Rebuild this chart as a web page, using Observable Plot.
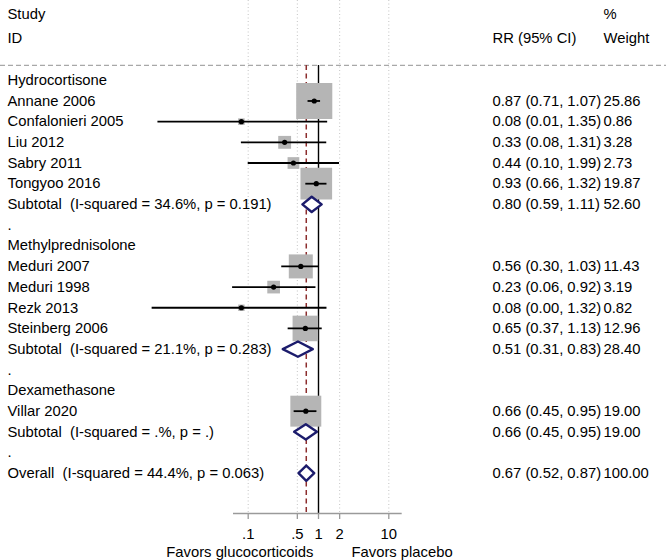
<!DOCTYPE html>
<html>
<head>
<meta charset="utf-8">
<script src="https://cdn.jsdelivr.net/npm/d3@7"></script>
<script src="https://cdn.jsdelivr.net/npm/@observablehq/plot@0.6"></script>
<style>
  html, body { margin: 0; padding: 0; background: white; }
  svg text { white-space: pre; }
</style>
</head>
<body>
<div id="chart"></div>
<script>
// ---- data ----
const labels = [
  "Hydrocortisone", "Annane 2006", "Confalonieri 2005", "Liu 2012", "Sabry 2011", "Tongyoo 2016",
  "Subtotal  (I-squared = 34.6%, p = 0.191)", ".",
  "Methylprednisolone", "Meduri 2007", "Meduri 1998", "Rezk 2013", "Steinberg 2006",
  "Subtotal  (I-squared = 21.1%, p = 0.283)", ".",
  "Dexamethasone", "Villar 2020", "Subtotal  (I-squared = .%, p = .)", ".",
  "Overall  (I-squared = 44.4%, p = 0.063)"
];
const kinds = [
  "group", "study", "study", "study", "study", "study", "subtotal", "blank",
  "group", "study", "study", "study", "study", "subtotal", "blank",
  "group", "study", "subtotal", "blank", "overall"
];
const rr = [null, 0.87, 0.08, 0.33, 0.44, 0.93, 0.80, null, null, 0.56, 0.23, 0.08, 0.65, 0.51, null, null, 0.66, 0.66, null, 0.67];
const lo = [null, 0.71, 0.0052, 0.08, 0.10, 0.66, 0.59, null, null, 0.30, 0.06, 0.0043, 0.37, 0.31, null, null, 0.45, 0.45, null, 0.52];
const hi = [null, 1.07, 1.35, 1.31, 1.99, 1.32, 1.11, null, null, 1.03, 0.92, 1.32, 1.13, 0.83, null, null, 0.95, 0.95, null, 0.87];
const weight = [null, 25.86, 0.86, 3.28, 2.73, 19.87, 52.60, null, null, 11.43, 3.19, 0.82, 12.96, 28.40, null, null, 19.00, 19.00, null, 100.00];

const headerTop = ["Study", "%"];
const headerBottom = ["ID", "RR (95% CI)", "Weight"];
const tickValues = [0.1, 0.5, 1, 2, 10];
const tickLabels = [".1", ".5", "1", "2", "10"];
const gridValues = [0.1, 0.5, 2, 10];
const favorLeft = "Favors glucocorticoids";
const favorRight = "Favors placebo";
const overallRR = rr[rr.length - 1];

// ---- table built from arrays ----
const rows = labels.map((label, i) => ({
  row: i, label, kind: kinds[i], rr: rr[i], lo: lo[i], hi: hi[i], weight: weight[i]
}));
const studies = rows.filter(d => d.kind === "study");
const pooled = rows.filter(d => d.kind === "subtotal" || d.kind === "overall");
const withEst = rows.filter(d => d.rr != null);
const halfH = 0.37; // diamond half height in row units
const diamonds = pooled.flatMap(d => [
  {row: d.row, x: d.lo, y: d.row},
  {row: d.row, x: d.rr, y: d.row - halfH},
  {row: d.row, x: d.hi, y: d.row},
  {row: d.row, x: d.rr, y: d.row + halfH}
]);

const axisRow = 20.95;
const headerRow = -0.72;
const colX = [7, 492, 603];
const txt = {fill: "black", textAnchor: "start", lineAnchor: "middle"};

const chart = Plot.plot({
  width: 666,
  height: 560,
  marginTop: 0,
  marginLeft: 0,
  marginRight: 0,
  marginBottom: 47,
  style: {fontFamily: "'Liberation Sans', Arial, Helvetica, sans-serif", fontSize: "14.8px", background: "white", color: "black"},
  x: {type: "log", domain: [0.1, 10], range: [247.7, 388.3]},
  y: {domain: [0, 19], range: [79.8, 472.7], axis: null},
  r: {type: "sqrt", domain: [0, 100], range: [0, 40.06]},
  marks: [
    // dotted gridlines
    Plot.ruleX(gridValues, {stroke: "#c4c4c4", strokeWidth: 1, strokeDasharray: "1,2.5"}),
    // header separator
    Plot.ruleY([headerRow], {stroke: "#a8a8a8", strokeWidth: 1.2, strokeDasharray: "5,3"}),
    // null line
    Plot.ruleX([1], {y1: headerRow, y2: axisRow, stroke: "black", strokeWidth: 1.4}),
    // overall effect line
    Plot.ruleX([overallRR], {y1: headerRow, y2: axisRow, stroke: "#8c2d2d", strokeWidth: 1.5, strokeDasharray: "5,3.5"}),
    // weight boxes
    Plot.dot(studies, {x: "rr", y: "row", r: "weight", symbol: "square", fill: "#b5b5b5", stroke: null}),
    // CIs
    Plot.ruleY(studies, {y: "row", x1: "lo", x2: "hi", stroke: "black", strokeWidth: 1.8}),
    Plot.dot(studies, {x: "rr", y: "row", r: 2.6, fill: "black", stroke: null}),
    // diamonds
    Plot.line(diamonds, {x: "x", y: "y", z: "row", curve: "linear-closed", fill: "white", stroke: "#1c1c6c", strokeWidth: 2.4}),
    // axis
    Plot.ruleY([axisRow], {x1: 0.0618, x2: 15.5, stroke: "#9a9a9a", strokeWidth: 1.5}),
    Plot.axisX({ticks: tickValues, tickFormat: d => tickLabels[tickValues.indexOf(d)], tickSize: 6, tickPadding: 9, stroke: "#9a9a9a", strokeWidth: 1.3, fill: "black", anchor: "bottom", lineAnchor: "top"}),
    Plot.text([favorLeft], {...txt, text: d => d, frameAnchor: "bottom-left", dx: 313, dy: 39, textAnchor: "end"}),
    Plot.text([favorRight], {...txt, text: d => d, frameAnchor: "bottom-left", dx: 351, dy: 39}),
    // headers
    Plot.text(headerTop, {...txt, text: d => d, frameAnchor: "top-left", dx: (d, i) => 0, dy: 14, filter: (d, i) => i === 0, dx: colX[0]}),
    Plot.text(headerTop, {...txt, text: d => d, frameAnchor: "top-left", dy: 14, filter: (d, i) => i === 1, dx: colX[2]}),
    Plot.text(headerBottom, {...txt, text: d => d, frameAnchor: "top-left", dy: 38, filter: (d, i) => i === 0, dx: colX[0]}),
    Plot.text(headerBottom, {...txt, text: d => d, frameAnchor: "top-left", dy: 38, filter: (d, i) => i === 1, dx: colX[1]}),
    Plot.text(headerBottom, {...txt, text: d => d, frameAnchor: "top-left", dy: 38, filter: (d, i) => i === 2, dx: colX[2]}),
    // row labels
    Plot.text(rows, {...txt, y: "row", text: "label", frameAnchor: "left", dx: colX[0]}),
    Plot.text(withEst, {...txt, y: "row", text: d => `${d.rr.toFixed(2)} (${d.lo.toFixed(2)}, ${d.hi.toFixed(2)})`, frameAnchor: "left", dx: colX[1]}),
    Plot.text(withEst, {...txt, y: "row", text: d => d.weight.toFixed(2), frameAnchor: "left", dx: colX[2]})
  ]
});
document.getElementById("chart").appendChild(chart);
</script>
</body>
</html>
